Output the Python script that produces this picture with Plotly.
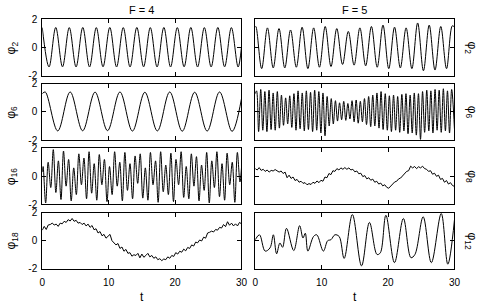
import plotly.graph_objects as go

# ---------------- data ----------------
# F = 4, phi_2 : extrema of a regular oscillation
A_t = [0, 1.02, 2.03, 3.05, 4.07, 5.09, 6.10, 7.12, 8.14, 9.15, 10.17, 11.19, 12.20, 13.22, 14.24,
       15.26, 16.27, 17.29, 18.31, 19.32, 20.34, 21.36, 22.37, 23.39, 24.41, 25.43, 26.44, 27.46,
       28.48, 29.49, 30]
A_v = [1.42, -1.38, 1.43, -1.37, 1.42, -1.38, 1.43, -1.38, 1.42, -1.37, 1.43, -1.38, 1.42, -1.38,
       1.43, -1.37, 1.42, -1.38, 1.43, -1.38, 1.42, -1.37, 1.43, -1.38, 1.42, -1.38, 1.43, -1.37,
       1.42, -1.38, 0.02]

# F = 4, phi_6
B_t = [0, 0.45, 2.33, 4.2, 6.08, 7.95, 9.83, 11.7, 13.58, 15.45, 17.33, 19.2, 21.08, 22.95, 24.83,
       26.7, 28.58, 30]
B_v = [1.3, 1.42, -1.35, 1.42, -1.34, 1.41, -1.33, 1.42, -1.36, 1.4, -1.35, 1.42, -1.37, 1.4,
       -1.36, 1.42, -1.38, 0.95]

# F = 4, phi_16 : alternating peaks / troughs
C_t = [0, 0.12, 0.51, 0.89, 1.28, 1.66, 2.05, 2.43, 2.82, 3.2, 3.59, 3.97, 4.36, 4.74, 5.13, 5.51,
       5.9, 6.28, 6.67, 7.05, 7.44, 7.82, 8.21, 8.59, 8.98, 9.36, 9.75, 10.13, 10.52, 10.9, 11.29,
       11.67, 12.06, 12.44, 12.83, 13.21, 13.6, 13.98, 14.37, 14.75, 15.14, 15.52, 15.91, 16.29,
       16.68, 17.06, 17.45, 17.83, 18.22, 18.6, 18.99, 19.37, 19.76, 20.14, 20.53, 20.91, 21.3,
       21.68, 22.07, 22.45, 22.84, 23.22, 23.61, 23.99, 24.38, 24.76, 25.15, 25.53, 25.92, 26.3,
       26.69, 27.07, 27.46, 27.84, 28.23, 28.61, 29.0, 29.38, 29.77, 30]
C_peaks = [0.7, 1.0, 1.9, 1.1, 1.8, 1.2, 0.6, 1.6, 1.3, 1.75, 0.9, 1.55, 1.2, 0.7, 1.75, 1.0, 1.7,
           0.9, 1.45, 1.6, 0.6, 1.7, 1.1, 1.75, 0.8, 1.65, 1.2, 1.75, 0.7, 1.6, 1.4, 0.8, 1.7, 1.1,
           1.75, 0.9, 1.65, 1.0, 1.7]
C_troughs = [-1.9, -0.8, -1.15, -1.65, -0.7, -1.75, -1.3, -0.6, -1.6, -1.2, -1.7, -0.6, -1.8, -1.3,
             -0.7, -1.75, -1.0, -1.6, -0.5, -1.55, -1.7, -0.6, -1.85, -1.1, -1.3, -1.8, -0.6, -1.5,
             -1.6, -0.7, -1.75, -1.0, -1.9, -0.8, -1.45, -1.7, -0.6, -1.85, -0.4]
C_start, C_end = 0.3, 0.6

# regular sampling times for the slow, noisy series
S_t = [0, 0.3, 0.6, 0.9, 1.2, 1.5, 1.8, 2.1, 2.4, 2.7, 3, 3.3, 3.6, 3.9, 4.2, 4.5, 4.8, 5.1, 5.4,
       5.7, 6, 6.3, 6.6, 6.9, 7.2, 7.5, 7.8, 8.1, 8.4, 8.7, 9, 9.3, 9.6, 9.9, 10.2, 10.5, 10.8,
       11.1, 11.4, 11.7, 12, 12.3, 12.6, 12.9, 13.2, 13.5, 13.8, 14.1, 14.4, 14.7, 15, 15.3, 15.6,
       15.9, 16.2, 16.5, 16.8, 17.1, 17.4, 17.7, 18, 18.3, 18.6, 18.9, 19.2, 19.5, 19.8, 20.1,
       20.4, 20.7, 21, 21.3, 21.6, 21.9, 22.2, 22.5, 22.8, 23.1, 23.4, 23.7, 24, 24.3, 24.6, 24.9,
       25.2, 25.5, 25.8, 26.1, 26.4, 26.7, 27, 27.3, 27.6, 27.9, 28.2, 28.5, 28.8, 29.1, 29.4,
       29.7, 30]

# F = 4, phi_18
D_v = [0.75, 1.02, 0.8, 1.12, 1.15, 1.25, 1.12, 1.18, 1.02, 1.25,
       1.2, 1.38, 1.3, 1.5, 1.4, 1.58, 1.38, 1.45, 1.25, 1.3,
       1.15, 1.25, 1.05, 1.18, 0.95, 1.08, 0.78, 0.85, 0.55, 0.65,
       0.35, 0.45, 0.18, 0.3, 0.45, 0.0, -0.12, -0.3, -0.2, -0.55,
       -0.45, -0.75, -0.62, -0.9, -0.85, -1.1, -1.0, -1.05, -0.9, -1.22,
       -0.95, -1.18, -1.05, -0.9, -1.15, -1.05, -1.25, -1.15, -1.35, -1.28,
       -1.42, -1.3, -1.35, -1.15, -1.25, -1.05, -1.12, -0.85, -0.95, -0.75,
       -0.82, -0.6, -0.72, -0.48, -0.55, -0.3, -0.38, -0.1, -0.15, 0.05,
       -0.02, 0.25, 0.18, 0.55, 0.6, 0.68, 0.62, 0.8, 0.75, 0.95,
       0.9, 1.15, 1.0, 1.35, 1.1, 1.25, 1.05, 1.2, 1.05, 1.3,
       1.2]

# F = 5, phi_2
E_t = [0, 0.1, 0.97, 1.84, 2.71, 3.58, 4.45, 5.32, 6.19, 7.06, 7.93, 8.8, 9.67, 10.54, 11.41,
       12.28, 13.15, 14.02, 14.89, 15.76, 16.63, 17.5, 18.37, 19.24, 20.11, 20.98, 21.85, 22.72,
       23.59, 24.46, 25.33, 26.2, 27.07, 27.94, 28.81, 29.68, 30]
E_peaks = [1.5, 1.4, 1.35, 1.25, 1.45, 1.4, 1.5, 1.35, 1.15, 1.4, 1.5, 1.6, 1.45, 1.4, 1.75, 1.6,
           1.5, 1.55]
E_troughs = [-1.5, -1.45, -1.45, -1.4, -1.5, -1.4, -1.35, -1.2, -1.25, -1.3, -1.4, -1.5, -1.45,
             -1.5, -1.65, -1.6, -1.5]
E_start, E_end = 1.47, 1.45

# F = 5, phi_6
F_t = [0, 0.2, 0.51, 0.83, 1.14, 1.45, 1.76, 2.08, 2.39, 2.7, 3.01, 3.33, 3.64, 3.95, 4.26, 4.58,
       4.89, 5.2, 5.51, 5.83, 6.14, 6.45, 6.76, 7.08, 7.39, 7.7, 8.01, 8.33, 8.64, 8.95, 9.26,
       9.58, 9.89, 10.2, 10.51, 10.83, 11.14, 11.45, 11.76, 12.08, 12.39, 12.7, 13.01, 13.33,
       13.64, 13.95, 14.26, 14.58, 14.89, 15.2, 15.51, 15.83, 16.14, 16.45, 16.76, 17.08, 17.39,
       17.7, 18.01, 18.33, 18.64, 18.95, 19.26, 19.58, 19.89, 20.2, 20.51, 20.83, 21.14, 21.45,
       21.76, 22.08, 22.39, 22.7, 23.01, 23.33, 23.64, 23.95, 24.26, 24.58, 24.89, 25.2, 25.51,
       25.83, 26.14, 26.45, 26.76, 27.08, 27.39, 27.7, 28.01, 28.33, 28.64, 28.95, 29.26, 29.58,
       30]
F_peaks = [1.5, 1.6, 1.45, 1.55, 1.35, 1.45, 1.2, 1.0, 1.15, 1.3,
           1.5, 1.35, 1.5, 1.4, 1.55, 1.45, 1.35, 1.1, 0.95, 0.8,
           0.65, 0.75, 0.6, 0.8, 0.85, 0.75, 0.95, 1.1, 1.2, 1.35,
           1.45, 1.3, 1.15, 1.2, 1.1, 1.25, 1.3, 1.2, 1.35, 1.3,
           1.45, 1.55, 1.5, 1.6, 1.55, 1.65, 1.5, 1.6]
F_troughs = [-1.4, -1.3, -1.4, -1.25, -1.3, -1.15, -0.95, -0.85, -1.1, -1.3,
             -1.2, -1.35, -1.25, -1.4, -1.3, -1.5, -1.7, -1.0, -0.85, -0.65,
             -0.55, -0.6, -0.5, -0.7, -0.8, -0.7, -0.9, -1.05, -1.0, -1.15,
             -1.25, -1.3, -1.4, -1.3, -1.45, -1.35, -1.55, -1.5, -1.65, -1.95,
             -1.45, -1.35, -1.5, -1.3, -1.45, -1.35, -1.5]
F_start, F_end = 1.3, -1.2

# F = 5, phi_8
G_v = [0.55, 0.45, 0.62, 0.42, 0.5, 0.35, 0.45, 0.3, 0.42, 0.38,
       0.48, 0.4, 0.3, 0.38, 0.2, 0.3, -0.1, 0.08, -0.15, -0.05,
       -0.3, -0.22, -0.42, -0.35, -0.5, -0.45, -0.6, -0.52, -0.58, -0.42,
       -0.5, -0.33, -0.45, -0.28, -0.35, -0.05, -0.1, 0.2, 0.12, 0.4,
       0.35, 0.55, 0.45, 0.6, 0.5, 0.62, 0.5, 0.6, 0.45, 0.5,
       0.32, 0.38, 0.18, 0.22, -0.02, 0.05, -0.18, -0.1, -0.28, -0.2,
       -0.42, -0.35, -0.55, -0.48, -0.68, -0.6, -0.78, -0.85, -0.7, -0.62,
       -0.4, -0.35, -0.18, -0.12, 0.05, 0.15, 0.35, 0.4, 0.72, 0.6,
       0.7, 0.55, 0.68, 0.6, 0.72, 0.55, 0.5, 0.35, 0.4, 0.15,
       0.22, 0.0, 0.08, -0.22, -0.15, -0.42, -0.3, -0.55, -0.45, -0.65,
       -0.72]

# F = 5, phi_12
H_t = [0, 0.64, 1.49, 2.23, 2.73, 3.22, 3.72, 4.12, 4.71, 5.8, 6.69, 7.19, 7.54, 7.93, 8.78, 9.27,
       10.26, 10.91, 11.4, 12.0, 12.64, 13.39, 14.63, 16.01, 17.2, 18.34, 18.84, 19.68, 20.97,
       22.31, 23.45, 24.05, 25.29, 26.52, 28.01, 29.0, 30]
H_v = [0.07, 0.42, -0.74, -0.51, 0.42, -0.93, -0.16, -0.47, 0.88, -0.7, 1.07, 0.19, 0.53, -0.74,
       0.3, 0.42, -0.74, 0.0, 0.07, 0.42, 0.3, -1.26, 1.86, -1.79, 1.3, -0.98, -0.86, 1.81, -1.56,
       1.58, -1.21, -0.98, 1.7, -1.56, 1.93, -1.67, 1.47]

column_titles = ["F = 4", "F = 5"]
x_ticks = [0, 10, 20, 30]
y_ticks = [-2, 0, 2]
y_tick_text = ["-2", "0", "2"]


def alternate(start, peaks, troughs, end):
    seq = [start]
    for i, p in enumerate(peaks):
        seq.append(p)
        if i < len(troughs):
            seq.append(troughs[i])
    seq.append(end)
    return seq


C_v = alternate(C_start, C_peaks, C_troughs, C_end)
E_v = alternate(E_start, E_peaks, E_troughs, E_end)
F_v = alternate(F_start, F_peaks, F_troughs, F_end)

# (column, row, t, values, label, line shape)
panels = [
    (0, 0, A_t, A_v, "2", "spline"),
    (0, 1, B_t, B_v, "6", "spline"),
    (0, 2, C_t, C_v, "16", "spline"),
    (0, 3, S_t, D_v, "18", "linear"),
    (1, 0, E_t, E_v, "2", "spline"),
    (1, 1, F_t, F_v, "6", "spline"),
    (1, 2, S_t, G_v, "8", "linear"),
    (1, 3, H_t, H_v, "12", "spline"),
]

# ---------------- layout ----------------
W, H = 484, 307
col_px = [(40, 243), (257, 460)]
row_top = [14, 81, 148, 215]
row_h = 58.5
FONT = "Liberation Sans, Arial, sans-serif"

fig = go.Figure()
annotations = []
for i, (col, row, t, v, lab, shape) in enumerate(panels):
    n = i + 1
    xname = "x" if n == 1 else f"x{n}"
    yname = "y" if n == 1 else f"y{n}"
    fig.add_trace(go.Scatter(x=t, y=v, mode="lines", xaxis=xname, yaxis=yname,
                             line=dict(color="black", width=1, shape=shape, smoothing=1),
                             showlegend=False, hoverinfo="skip"))
    x0, x1 = col_px[col]
    top = row_top[row]
    bot = top + row_h
    common = dict(showline=True, linecolor="black", linewidth=1, mirror="ticks",
                  ticks="inside", ticklen=4, tickwidth=1, tickcolor="black",
                  showgrid=False, zeroline=False,
                  tickfont=dict(family=FONT, size=10, color="black"))
    fig.update_layout(**{
        ("xaxis" if n == 1 else f"xaxis{n}"): dict(
            domain=[x0 / W, x1 / W], range=[0, 30], anchor=yname,
            tickmode="array", tickvals=x_ticks, showticklabels=(row == 3),
            ticklabelstandoff=4, **common),
        ("yaxis" if n == 1 else f"yaxis{n}"): dict(
            domain=[1 - bot / H, 1 - top / H], range=[-2, 2], anchor=xname,
            tickmode="array", tickvals=y_ticks, ticktext=y_tick_text,
            showticklabels=(col == 0), ticklabelstandoff=2, **common),
    })
    yc = 1 - (top + row_h / 2) / H
    lx, ang = (9, -90) if col == 0 else (477, 90)
    annotations.append(dict(text=f"φ<sub>{lab}</sub>", x=lx / W, y=yc, xref="paper",
                            yref="paper", xanchor="center", yanchor="middle",
                            showarrow=False, textangle=ang,
                            font=dict(family=FONT, size=12, color="black")))

for col, title in enumerate(column_titles):
    xc = (col_px[col][0] + col_px[col][1]) / 2 / W
    annotations.append(dict(text=title, x=xc, y=1 - 4.5 / H, xref="paper", yref="paper",
                            xanchor="center", yanchor="middle", showarrow=False,
                            font=dict(family=FONT, size=11, color="black")))
    annotations.append(dict(text="t", x=xc, y=1 - 302.5 / H, xref="paper", yref="paper",
                            xanchor="center", yanchor="middle", showarrow=False,
                            font=dict(family=FONT, size=12, color="black")))

fig.update_layout(width=W, height=H, margin=dict(l=0, r=0, t=0, b=0),
                  paper_bgcolor="white", plot_bgcolor="white",
                  annotations=annotations, showlegend=False)

fig.write_html("out.html", config={"displayModeBar": False, "staticPlot": True},
               post_script="document.body.style.margin='0';document.body.style.padding='0';"
                           "document.body.style.overflow='hidden';")
